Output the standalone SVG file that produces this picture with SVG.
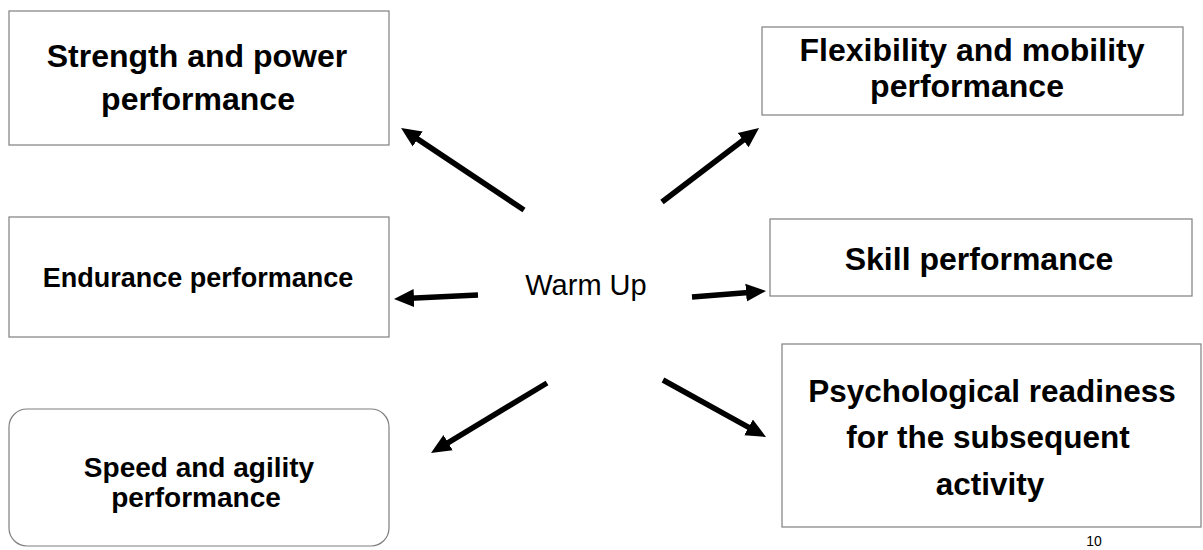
<svg xmlns="http://www.w3.org/2000/svg" width="1203" height="550" viewBox="0 0 1203 550">
  <style>
    .box { fill: #ffffff; stroke: #7f7f7f; stroke-width: 1.2; }
    .lbl { font-family: "Liberation Sans", Arial, sans-serif; font-weight: bold; fill: #000000; text-anchor: middle; }
    .hub { font-family: "Liberation Sans", Arial, sans-serif; font-size: 29px; fill: #000000; text-anchor: middle; }
    .arrow { stroke: #000000; stroke-width: 5.5; fill: none; marker-end: url(#head); }
    .pg { font-family: "Liberation Sans", Arial, sans-serif; font-size: 14px; fill: #000000; text-anchor: middle; }
  </style>
  <defs>
    <marker id="head" markerUnits="userSpaceOnUse" viewBox="0 0 20 20" markerWidth="20" markerHeight="20" refX="9" refY="10" orient="auto">
      <path d="M0,1 L20,10 L0,19 z" fill="#000000"/>
    </marker>
  </defs>
  <rect width="1203" height="550" fill="#ffffff"/>

  <g id="node-strength">
    <rect class="box" x="9" y="11" width="380" height="134"/>
    <text class="lbl" font-size="32" x="197" y="67">Strength and power</text>
    <text class="lbl" font-size="32" x="198" y="110">performance</text>
  </g>

  <g id="node-flexibility">
    <rect class="box" x="762" y="27" width="421" height="88"/>
    <text class="lbl" font-size="32" x="972" y="61">Flexibility and mobility</text>
    <text class="lbl" font-size="32" x="967" y="97">performance</text>
  </g>

  <g id="node-endurance">
    <rect class="box" x="9" y="217" width="380" height="120"/>
    <text class="lbl" font-size="27" x="198" y="287">Endurance performance</text>
  </g>

  <g id="node-skill">
    <rect class="box" x="770" y="219" width="422" height="77"/>
    <text class="lbl" font-size="32" x="979" y="270">Skill performance</text>
  </g>

  <g id="node-speed">
    <rect class="box" x="9" y="409" width="380" height="137" rx="18" ry="18"/>
    <text class="lbl" font-size="28" x="199" y="477">Speed and agility</text>
    <text class="lbl" font-size="28" x="196" y="507">performance</text>
  </g>

  <g id="node-psych">
    <rect class="box" x="782" y="344" width="419" height="183"/>
    <text class="lbl" font-size="31.5" x="992" y="402">Psychological readiness</text>
    <text class="lbl" font-size="31.5" x="988" y="448">for the subsequent</text>
    <text class="lbl" font-size="31.5" x="990" y="495">activity</text>
  </g>

  <g id="node-warmup">
    <text class="hub" x="586" y="295">Warm Up</text>
  </g>

  <!-- each line stops 11px short of its tip; the marker supplies the point -->
  <g id="connectors">
    <line class="arrow" x1="524" y1="210" x2="410.2" y2="134.1"/>
    <line class="arrow" x1="662" y1="202" x2="750.3" y2="134.7"/>
    <line class="arrow" x1="478" y1="295" x2="405" y2="298.5"/>
    <line class="arrow" x1="692" y1="297" x2="755" y2="291.9"/>
    <line class="arrow" x1="547" y1="383" x2="440.4" y2="447.3"/>
    <line class="arrow" x1="663" y1="380" x2="756.4" y2="431.7"/>
  </g>

  <text class="pg" x="1094" y="546">10</text>
</svg>
